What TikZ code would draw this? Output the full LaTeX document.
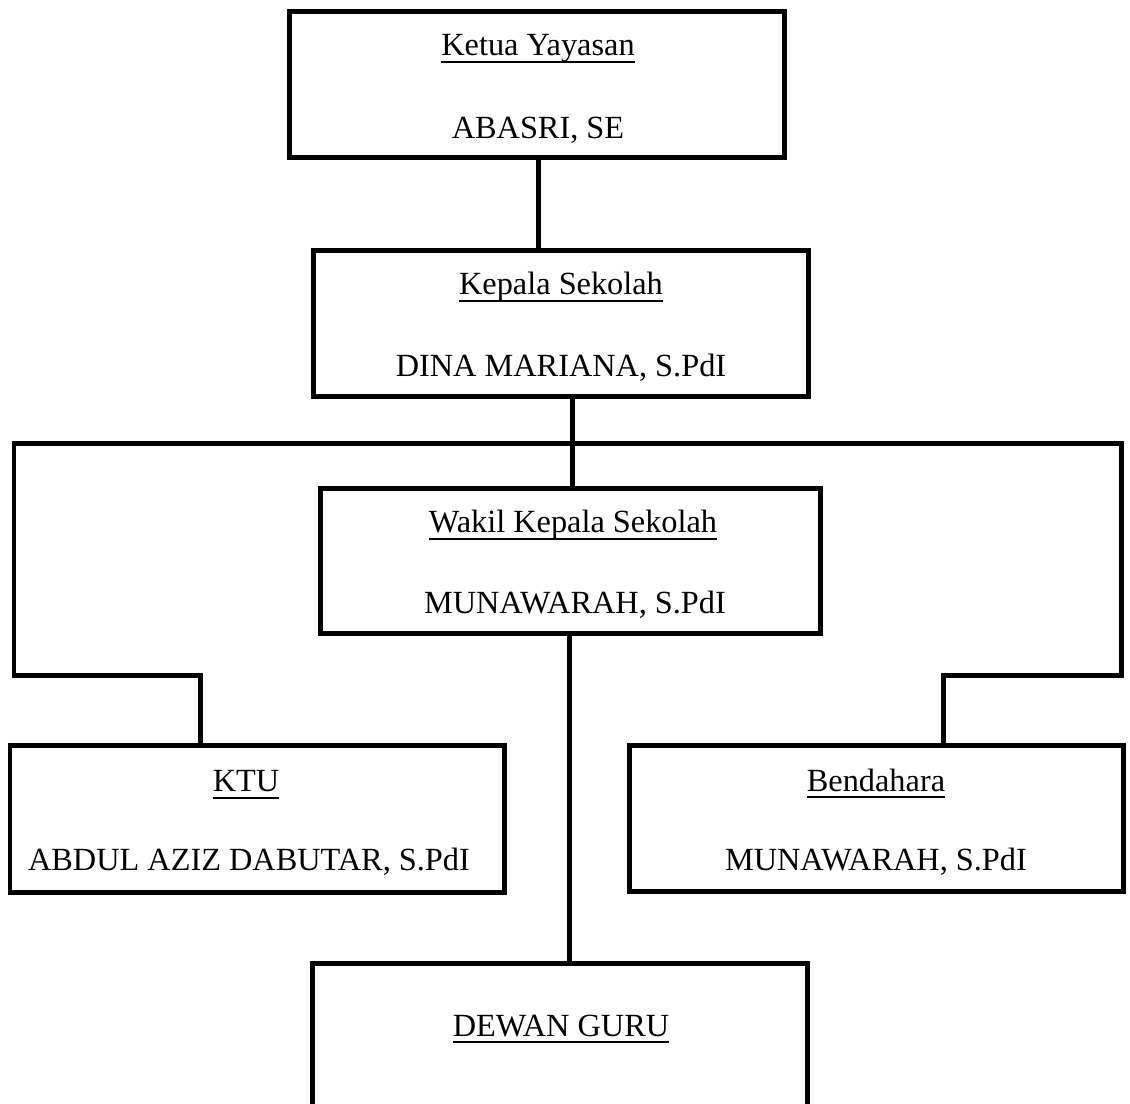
\documentclass[tikz,border=0pt]{standalone}
\usepackage{fontspec}
\setmainfont{Liberation Serif}
\newsavebox\ulbox
\newcommand\ulx[1]{\sbox\ulbox{#1}\rlap{\rule[-3.9pt]{\wd\ulbox}{1pt}}\usebox\ulbox}
\begin{document}
\begin{tikzpicture}[x=0.02cm,y=-0.02cm,
  orgbox/.style={draw,line width=0.1cm,rectangle,inner sep=0pt,minimum width=#1*0.02cm,minimum height=146*0.02cm},
  orgbox/.default=495,
  txt/.style={anchor=base,inner sep=0pt,font=\fontsize{18.4}{22}\selectfont},
  conn/.style={line width=0.1cm}]
\clip (0,0) rectangle (1130,1104);
% boxes
\node[orgbox=495] (ketua) at (536.5,85) {};
\node[orgbox=495] (kepala) at (560.5,324) {};
\node[orgbox=500,minimum height=145*0.02cm] (wakil) at (570,561.5) {};
\node[orgbox=494] (ktu) at (257,819) {};
\node[orgbox=494,minimum height=145*0.02cm] (bend) at (876,818.5) {};
\node[orgbox=495] (dewan) at (559.5,1036) {};
% texts
\node[txt] (ketuaT) at (538,56) {\ulx{Ketua Yayasan}};
\node[txt] (ketuaN) at (538,139) {ABASRI, SE};
\node[txt] (kepalaT) at (561,295) {\ulx{Kepala Sekolah}};
\node[txt] (kepalaN) at (561,377) {DINA MARIANA, S.PdI};
\node[txt] (wakilT) at (573,533) {\ulx{Wakil Kepala Sekolah}};
\node[txt] (wakilN) at (575,614) {MUNAWARAH, S.PdI};
\node[txt] (ktuT) at (246,792) {\ulx{KTU}};
\node[txt] (ktuN) at (249,870) {ABDUL AZIZ DABUTAR, S.PdI};
\node[txt] (bendT) at (876,791) {\ulx{Bendahara}};
\node[txt] (bendN) at (876,870) {MUNAWARAH, S.PdI};
\node[txt] (dewanT) at (561,1036) {\ulx{DEWAN GURU}};
% connector helpers
\coordinate (xa) at (538,0);
\coordinate (xb) at (572,0);
\coordinate (xw) at (569,0);
\coordinate (kx) at (200,0);
\coordinate (bx) at (943,0);
\coordinate (bl) at (14,444);
\coordinate (br) at (1121,444);
\coordinate (ml) at (14,676);
\coordinate (mr) at (1121,676);
% connectors
\draw[conn] (ketua.south -| xa) -- (kepala.north -| xa);
\draw[conn] (kepala.south -| xb) -- (wakil.north -| xb);
\draw[conn] (ktu.north -| kx) |- (ml) -- (bl) -- (br) -- (mr) -| (bend.north -| bx);
\draw[conn] (wakil.south -| xw) -- (dewan.north -| xw);
\end{tikzpicture}
\end{document}
